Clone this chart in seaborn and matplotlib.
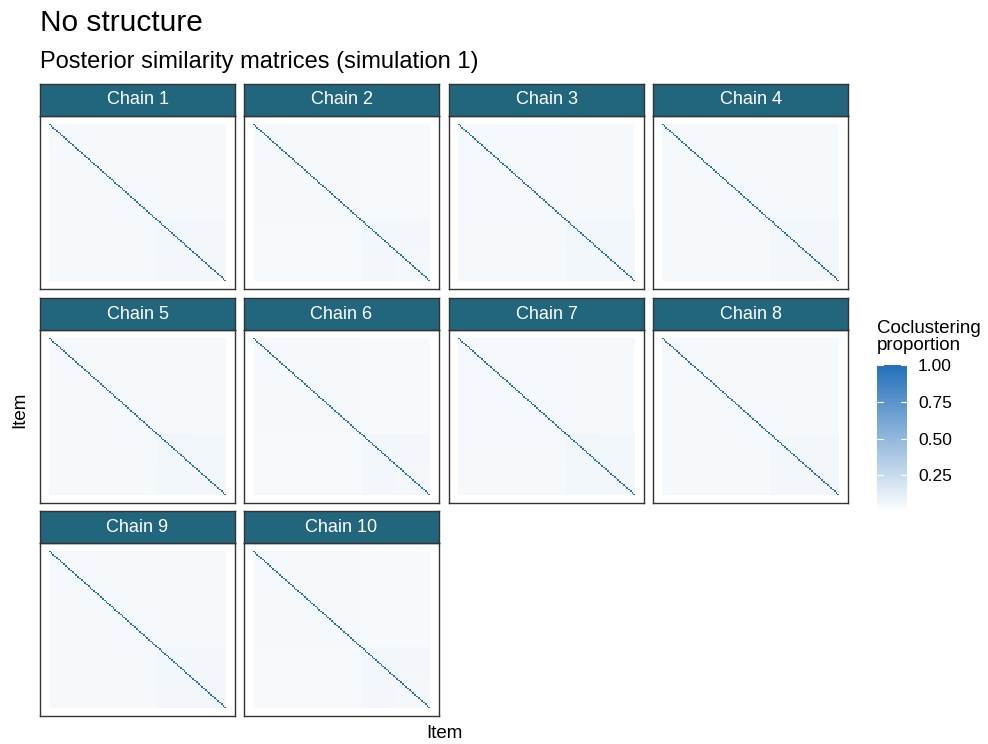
import numpy as np
import pandas as pd
import matplotlib
matplotlib.use("Agg")
import matplotlib.pyplot as plt
from matplotlib.colors import LinearSegmentedColormap, Normalize
from matplotlib.cm import ScalarMappable
import seaborn as sns

sns.set_theme(style="white")
plt.rcParams["font.family"] = ["Liberation Sans", "DejaVu Sans"]

# ---- data -------------------------------------------------------------
chains = ["Chain 1", "Chain 2", "Chain 3", "Chain 4", "Chain 5",
          "Chain 6", "Chain 7", "Chain 8", "Chain 9", "Chain 10"]
n_items = 100
# items are ordered into blocks; the first three blocks form group A,
# the last two form group B
block_sizes = [20, 20, 21, 20, 19]
block_group = ["A", "A", "A", "B", "B"]
# average coclustering proportion per chain
within_a = [0.046, 0.044, 0.047, 0.045, 0.046, 0.044, 0.047, 0.045, 0.046, 0.044]
within_b = [0.058, 0.056, 0.060, 0.057, 0.059, 0.056, 0.060, 0.057, 0.058, 0.056]
between = [0.040, 0.039, 0.041, 0.040, 0.040, 0.039, 0.041, 0.040, 0.041, 0.039]
# finer block-level offsets seen as faint bands
block_offsets = [0.003, -0.002, 0.002, 0.004, -0.002]

title = "No structure"
subtitle = "Posterior similarity matrices (simulation 1)"
legend_title = "Coclustering\nproportion"
legend_ticks = [0.25, 0.50, 0.75, 1.00]


def similarity_matrix(k):
    labels = np.repeat(np.arange(len(block_sizes)), block_sizes)
    groups = np.array(block_group)[labels]
    off = np.array(block_offsets)[labels]
    same_group = groups[:, None] == groups[None, :]
    same_block = labels[:, None] == labels[None, :]
    m = np.where(same_group,
                 np.where(groups[:, None] == "A", within_a[k], within_b[k]),
                 between[k])
    m = m + np.where(same_block, off[:, None], 0.0)
    np.fill_diagonal(m, 1.0)
    return pd.DataFrame(m)


# ---- layout -----------------------------------------------------------
W, H = 988, 744
fig = plt.figure(figsize=(W / 100, H / 100), dpi=100)


def box(x, y, w, h):
    return [x / W, 1 - (y + h) / H, w / W, h / H]


cmap = LinearSegmentedColormap.from_list("cocl", ["#FFFFFF", "#2470BA"])
norm = Normalize(vmin=0.0, vmax=1.0)

col_x = [40, 244, 449, 653]
row_y = [84, 298, 511]
panel_w, strip_h, panel_h = 195, 32, 173
strip_col = "#21667C"
edge_col = "#333333"

for k, name in enumerate(chains):
    r, c = divmod(k, 4)
    x0, y0 = col_x[c], row_y[r]

    ax = fig.add_axes(box(x0, y0 + strip_h, panel_w, panel_h))
    sns.heatmap(similarity_matrix(k), ax=ax, cmap=cmap, vmin=0.0, vmax=1.0,
                cbar=False, xticklabels=False, yticklabels=False,
                square=False, linewidths=0, rasterized=True)
    ax.set_xlim(-5, n_items + 5)
    ax.set_ylim(n_items + 5, -5)
    ax.set_xlabel("")
    ax.set_ylabel("")
    ax.set_facecolor("white")
    for s in ax.spines.values():
        s.set_visible(True)
        s.set_color(edge_col)
        s.set_linewidth(1.0)

    sax = fig.add_axes(box(x0, y0, panel_w, strip_h))
    sax.set_facecolor(strip_col)
    sax.set_xticks([])
    sax.set_yticks([])
    for s in sax.spines.values():
        s.set_color(edge_col)
        s.set_linewidth(1.0)
    sax.text(0.5, 0.5, name, color="white", fontsize=13,
             ha="center", va="center", transform=sax.transAxes)

# titles and axis labels
fig.text(40 / W, 1 - 23 / H, title, fontsize=21.5, ha="left", va="center",
         color="black")
fig.text(40 / W, 1 - 62 / H, subtitle, fontsize=17, ha="left", va="center",
         color="black")
fig.text(20 / W, 1 - 410 / H, "Item", fontsize=13.5, rotation=90,
         ha="center", va="center", color="black")
fig.text(444 / W, 1 - 733 / H, "Item", fontsize=13.5, ha="center",
         va="center", color="black")

# colour legend
fig.text(877 / W, 1 - 337 / H, legend_title, fontsize=13.5, ha="left",
         va="center", linespacing=0.95, color="black")
cax = fig.add_axes(box(877, 365, 30, 147))
cb = fig.colorbar(ScalarMappable(norm=norm, cmap=cmap), cax=cax,
                  ticks=legend_ticks)
cb.outline.set_visible(False)
cb.ax.set_yticklabels([f"{t:.2f}" for t in legend_ticks])
cb.ax.tick_params(length=0, labelsize=12.5, pad=8, colors="black")
for t in legend_ticks:
    cax.plot([0, 0.2], [t, t], color="white", lw=0.8)
    cax.plot([0.8, 1], [t, t], color="white", lw=0.8)

fig.savefig("out.png", dpi=100)
